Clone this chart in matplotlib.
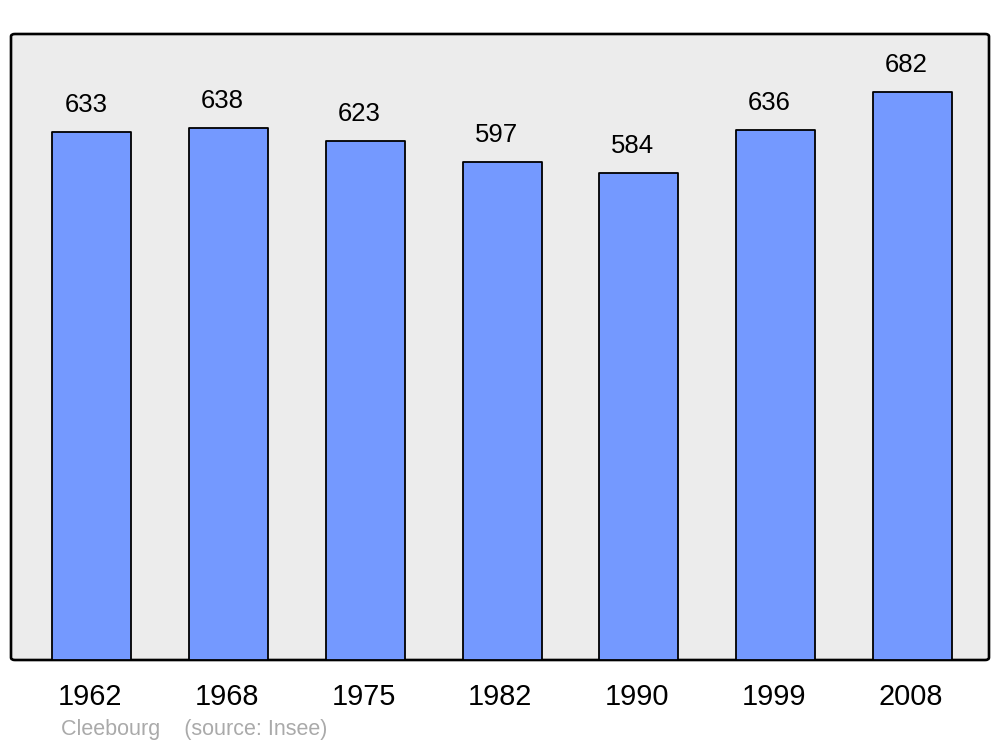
import matplotlib
matplotlib.use("Agg")
import matplotlib.pyplot as plt
from matplotlib.patches import FancyBboxPatch
from matplotlib.transforms import ScaledTranslation

years = ["1962", "1968", "1975", "1982", "1990", "1999", "2008"]
population = [633, 638, 623, 597, 584, 636, 682]
town = "Cleebourg"
source = "(source: Insee)"

plt.rcParams['font.family'] = ['Liberation Sans', 'DejaVu Sans']

fig = plt.figure(figsize=(10, 7.47), dpi=100)
ax = fig.add_axes([11/1000, (747-660)/747, 978/1000, 626/747])
ax.set_facecolor('none')
for s in ax.spines.values():
    s.set_visible(False)

frame = FancyBboxPatch((0, 0), 1, 1, boxstyle="round,pad=0,rounding_size=0.004",
                       transform=ax.transAxes, facecolor='#ececec', edgecolor='black',
                       linewidth=1.9, zorder=0, clip_on=False)
ax.add_patch(frame)

x = list(range(len(years)))
bars = ax.bar(x, population, width=0.578, color='#7499ff', edgecolor='black',
              linewidth=1.3, zorder=2)
for b in bars:
    b.set_joinstyle('round')

for xi, v in zip(x, population):
    ax.annotate(str(v), (xi, v), xytext=(-6, 27), textcoords='offset pixels',
                ha='center', va='center', fontsize=18.5, color='black')

ax.set_xlim(-0.592, 6.56)
ax.set_ylim(0, 751)
ax.set_yticks([])
ax.set_xticks(x)
ax.set_xticklabels(years, fontsize=20.8)
ax.tick_params(axis='x', length=0, pad=16.5)
shift = ScaledTranslation(-2/100, 0, fig.dpi_scale_trans)
for lbl in ax.get_xticklabels():
    lbl.set_transform(lbl.get_transform() + shift)

fig.text(61/1000, 1 - 730/747, town + "    " + source, fontsize=15.5,
         color='#aaaaaa', ha='left', va='center')

fig.savefig('out.png', dpi=100, facecolor='white')
